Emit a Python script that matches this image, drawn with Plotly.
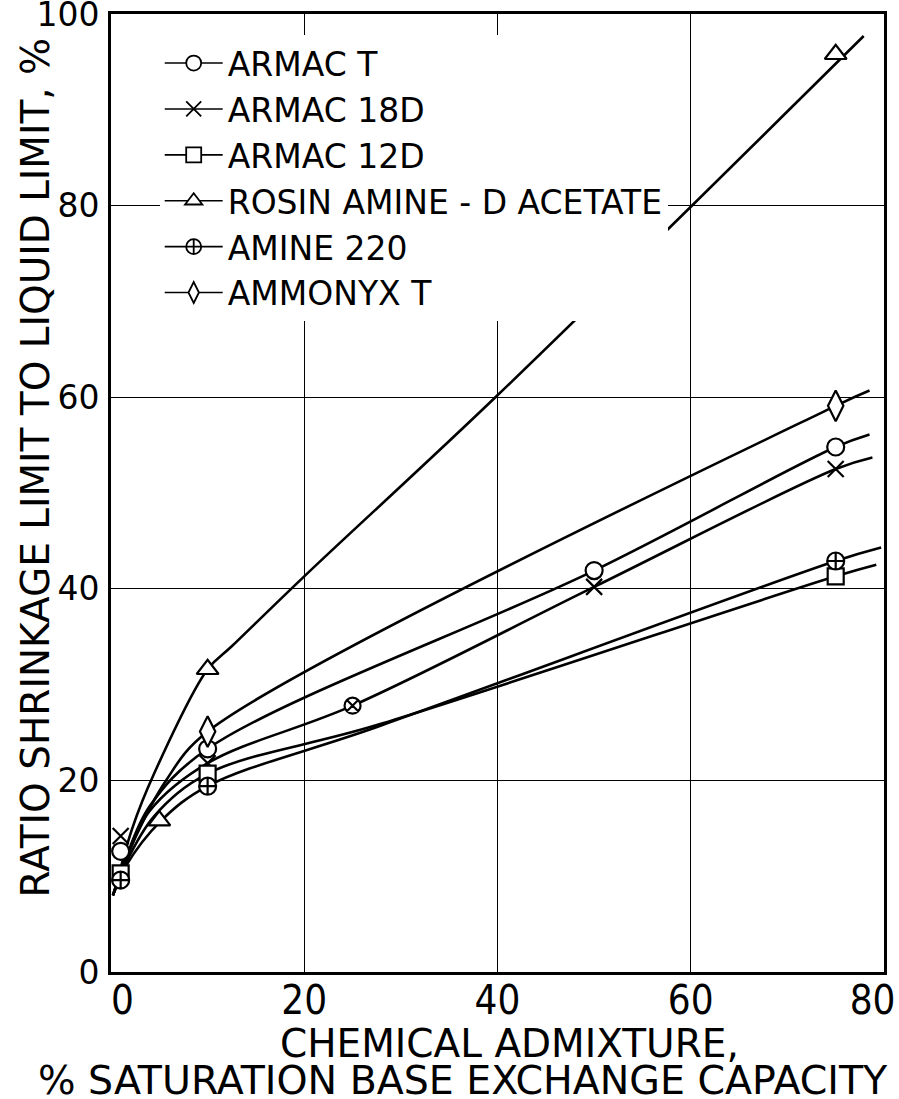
import plotly.graph_objects as go

# ---------------- data ----------------
series_names = ["ARMAC T", "ARMAC 18D", "ARMAC 12D",
                "ROSIN AMINE - D ACETATE", "AMINE 220", "AMMONYX T"]

# measured points
armac_t_x = [1, 10, 50, 75]
armac_t_y = [12.6, 23.3, 41.9, 54.8]
armac_18d_x = [1, 10, 25, 50, 75]
armac_18d_y = [14.2, 21.8, 27.8, 40.2, 52.5]
armac_12d_x = [1, 10, 75]
armac_12d_y = [10.3, 20.7, 41.3]
rosin_x = [5, 10, 75]
rosin_y = [15.8, 31.6, 95.8]
amine_220_x = [1, 10, 75]
amine_220_y = [9.6, 19.4, 42.9]
ammonyx_x = [10, 75]
ammonyx_y = [25.1, 59.1]

# hand-drawn fitted curves
armac_t_curve_x = [0.2, 1.5, 4, 10, 50, 75, 78.5]
armac_t_curve_y = [8.0, 11.8, 17.3, 23.3, 41.9, 54.8, 56.1]
armac_18d_curve_x = [0.2, 1.5, 4, 10, 25, 50, 75, 78.8]
armac_18d_curve_y = [8.0, 11.6, 16.8, 21.8, 27.8, 40.2, 52.5, 53.7]
armac_12d_curve_x = [0.2, 1.5, 4.5, 10, 27.6, 75, 79.2]
armac_12d_curve_y = [8.0, 11.3, 16.3, 20.7, 25.8, 41.3, 42.5]
rosin_curve_x = [0.4, 2.2, 4.5, 10, 12.5, 20, 40, 77.9]
rosin_curve_y = [8.5, 15.0, 20.8, 31.6, 34.0, 41.3, 60.2, 97.7]
amine_220_curve_x = [0.2, 1.5, 5.2, 10, 27.6, 75, 79.7]
amine_220_curve_y = [8.0, 11.0, 15.8, 19.4, 25.6, 42.9, 44.3]
ammonyx_curve_x = [0.3, 2.5, 5.7, 10, 75, 78.5]
ammonyx_curve_y = [8.3, 14.0, 20.0, 25.1, 59.1, 60.7]

x_ticks = [0, 20, 40, 60, 80]
x_tick_labels = ["0", "20", "40", "60", "80"]
y_ticks = [0, 20, 40, 60, 80, 100]
y_tick_labels = ["0", "20", "40", "60", "80", "100"]

# ---------------- styling ----------------
FONT = "DejaVu Sans"
COND = "DejaVu Sans Condensed, DejaVu Sans"
BLACK = "black"
NB = "\u00a0"

symbols = ["circle", "x-thin", "square", "triangle-up", "circle-cross", "diamond-tall"]
sizes = [17, 16, 16, 19, 17, 22]
points = [(armac_t_x, armac_t_y), (armac_18d_x, armac_18d_y), (armac_12d_x, armac_12d_y),
          (rosin_x, rosin_y), (amine_220_x, amine_220_y), (ammonyx_x, ammonyx_y)]
curves = [(armac_t_curve_x, armac_t_curve_y), (armac_18d_curve_x, armac_18d_curve_y),
          (armac_12d_curve_x, armac_12d_curve_y), (rosin_curve_x, rosin_curve_y),
          (amine_220_curve_x, amine_220_curve_y), (ammonyx_curve_x, ammonyx_curve_y)]

fig = go.Figure()

# curves
for (cx, cy) in curves:
    fig.add_trace(go.Scatter(x=cx, y=cy, mode="lines", showlegend=False,
                             line=dict(color=BLACK, width=2.6, shape="spline", smoothing=1.0),
                             hoverinfo="skip"))

# markers
for i, (px, py) in enumerate(points):
    sym = [symbols[i]] * len(px)
    if i == 1:
        sym = ["x-thin", "x-thin", "circle-x", "x-thin", "x-thin"]
    fig.add_trace(go.Scatter(x=px, y=py, mode="markers", showlegend=False,
                             marker=dict(symbol=sym, size=sizes[i], color="white",
                                         line=dict(color=BLACK, width=2.2))))

# legend entries
for i, name in enumerate(series_names):
    fig.add_trace(go.Scatter(x=[None], y=[None], mode="lines+markers", name=name,
                             legendgroup=name,
                             line=dict(color=BLACK, width=1.6),
                             marker=dict(symbol=symbols[i], size=15, color="white",
                                         line=dict(color=BLACK, width=1.8))))

axis_common = dict(showgrid=True, gridcolor=BLACK, gridwidth=1.3,
                   showline=True, linecolor=BLACK, linewidth=3, mirror=True,
                   zeroline=False, ticks="", ticklabeloverflow="allow",
                   automargin=False)

# edge labels are drawn pulled inward, as in the reference
x_text = list(x_tick_labels)
x_text[0] = NB * 2 + x_text[0]
x_text[-1] = x_text[-1] + NB * 2

fig.update_layout(
    width=899, height=1099,
    paper_bgcolor="white", plot_bgcolor="white",
    margin=dict(l=111, r=15, t=14, b=127),
    font=dict(family=FONT, color=BLACK),
    xaxis=dict(range=[0, 80], tickvals=x_ticks, ticktext=x_text,
               tickfont=dict(family=COND, size=40), ticklabelstandoff=-9, **axis_common),
    yaxis=dict(range=[0, 100], tickvals=y_ticks, ticktext=y_tick_labels,
               tickfont=dict(family=FONT, size=33), ticklabelstandoff=2, **axis_common),
    legend=dict(x=0.063, y=0.978, xanchor="left", yanchor="top",
                bgcolor="white", borderwidth=0,
                font=dict(family=FONT, size=33, color=BLACK),
                itemwidth=58, tracegroupgap=15, traceorder="normal"),
    showlegend=True,
    annotations=[
        dict(text="CHEMICAL ADMIXTURE,", xref="paper", yref="paper",
             x=0.515, y=-0.0745, xanchor="center", yanchor="middle", showarrow=False,
             font=dict(family=FONT, size=39, color=BLACK)),
        dict(text="% SATURATION BASE EXCHANGE CAPACITY", xref="paper", yref="paper",
             x=0.455, y=-0.1125, xanchor="center", yanchor="middle", showarrow=False,
             font=dict(family=FONT, size=39.5, color=BLACK)),
        dict(text="RATIO SHRINKAGE LIMIT TO LIQUID LIMIT, %", xref="paper", yref="paper",
             x=-0.098, y=0.527, xanchor="center", yanchor="middle", textangle=-90,
             showarrow=False, font=dict(family=FONT, size=39, color=BLACK)),
    ],
)

# remove the default page margin so the figure starts at the window's corner
fig.write_html("out.html", config={"displayModeBar": False},
               post_script="document.body.style.margin='0';")
